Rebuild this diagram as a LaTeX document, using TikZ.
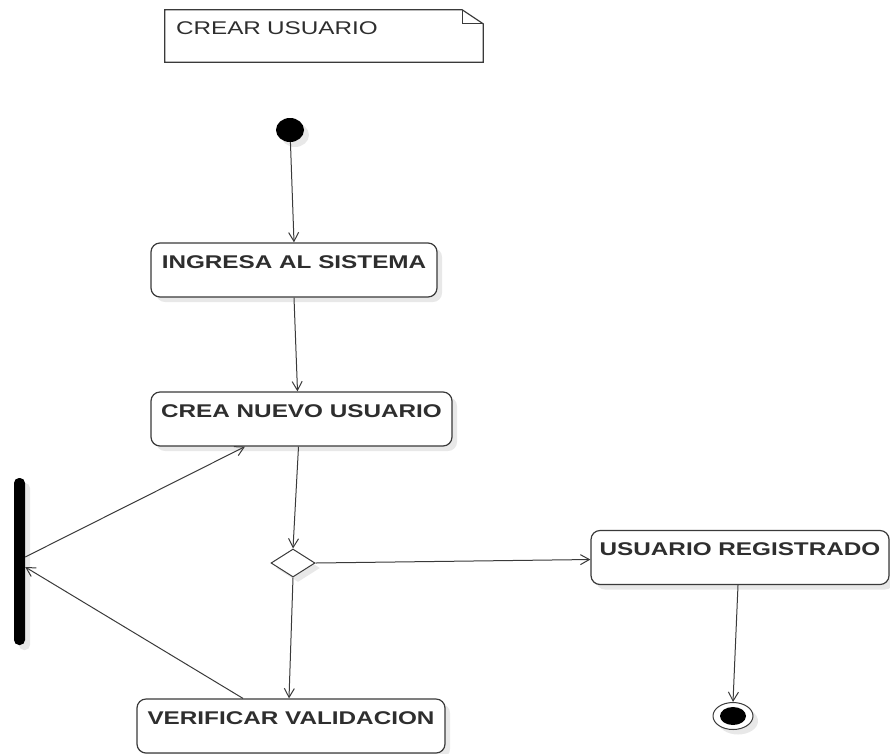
\documentclass[tikz,border=0pt]{standalone}
\usepackage{fontspec}
\newfontfamily\diagfont[FakeStretch=1.32]{Liberation Sans}
\usetikzlibrary{shapes.geometric,shadows,arrows.meta}
\definecolor{linea}{HTML}{3A3A3A}
\definecolor{texto}{HTML}{2E2E2E}

\begin{document}
\begin{tikzpicture}[
  x=1pt, y=-1pt,
  every node/.style={font=\diagfont\fontsize{18.4}{22}\selectfont, text=texto},
  sombra/.style={drop shadow={shadow xshift=5pt, shadow yshift=-5pt, fill=black!15, opacity=0.6}},
  actividad/.style={draw=linea, line width=1.2pt, rounded corners=9pt, fill=white, sombra,
    font=\diagfont\bfseries\fontsize{18.4}{22}\selectfont,
    minimum height=54pt, inner sep=0pt, text height=13pt, text depth=17pt},
  nota/.style={minimum width=318pt, minimum height=52pt, inner xsep=11pt, inner ysep=0pt,
    text width=296pt, align=left, text height=13pt, text depth=17pt},
  inicio/.style={ellipse, fill=black, minimum width=28pt, minimum height=24pt, inner sep=0pt, sombra},
  fin/.style={ellipse, draw=linea, line width=1pt, fill=white, minimum width=40pt, minimum height=27pt,
    inner sep=0pt, sombra, path picture={\fill[black] (path picture bounding box.center) ellipse (13pt and 9pt);}},
  decision/.style={diamond, draw=linea, line width=1pt, fill=white, minimum width=44pt,
    minimum height=28pt, inner sep=0pt, sombra},
  barra/.style={fill=black, rounded corners=5pt, minimum width=11pt, minimum height=167pt, inner sep=0pt, sombra},
  flecha/.style={draw=linea, line width=1pt, -{Straight Barb[length=9pt,width=10pt]}}
  ]
  \useasboundingbox (0,0) rectangle (890,753);

  \node[nota] (nota) at (324,36) {CREAR USUARIO};
  \draw[linea, line width=1.2pt] (nota.north west) -- ([xshift=-21pt]nota.north east)
    -- ([yshift=-14pt]nota.north east) -- (nota.south east) -- (nota.south west) -- cycle;
  \draw[linea, line width=1pt] ([xshift=-21pt]nota.north east) |- ([yshift=-14pt]nota.north east);

  \node[inicio] (inicio) at (290,130) {};
  \node[actividad, minimum width=286pt] (ingresa) at (294,270) {INGRESA AL SISTEMA};
  \node[actividad, minimum width=301pt] (crea) at (301.5,419) {CREA NUEVO USUARIO};
  \node[decision] (decision) at (293,563) {};
  \node[actividad, minimum width=298pt] (registrado) at (740,557.5) {USUARIO REGISTRADO};
  \node[fin] (fin) at (733,716) {};
  \node[actividad, minimum width=308pt] (verificar) at (291,726) {VERIFICAR VALIDACION};
  \node[barra] (barra) at (19.5,561.5) {};

  \draw[flecha] (inicio) -- (ingresa.north);
  \draw[flecha] (ingresa.south) -- ([xshift=-4pt]crea.north);
  \draw[flecha] ([xshift=-3pt]crea.south) -- (decision.north);
  \draw[flecha] (decision.east) -- ([yshift=-2pt]registrado.west);
  \draw[flecha] ([xshift=-2pt]registrado.south) -- (fin.north);
  \draw[flecha] (decision.south) -- ([xshift=-2pt]verificar.north);
  \draw[flecha] ([yshift=4.5pt]barra.east) -- ([xshift=-56.5pt]crea.south);
  \draw[flecha] ([xshift=-48pt]verificar.north) -- ([yshift=-5.5pt]barra.east);
\end{tikzpicture}
\end{document}
